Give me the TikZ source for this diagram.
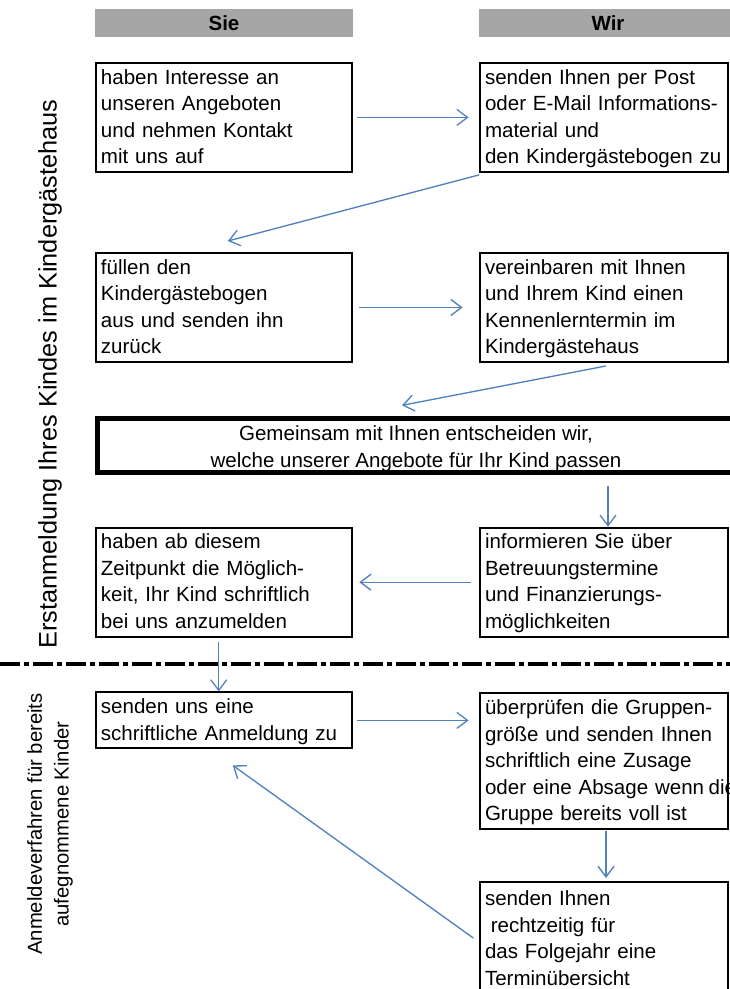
\documentclass[tikz,border=0pt]{standalone}
\usepackage{fontspec}
\setmainfont{Liberation Sans}
\usetikzlibrary{arrows.meta,calc}

\definecolor{kopfgrau}{RGB}{166,166,166}
\definecolor{pfeilblau}{RGB}{79,129,189}

\tikzset{
  kopf/.style={fill=kopfgrau, minimum width=193.5pt, minimum height=21pt, inner sep=0pt,
    font=\fontsize{15.4}{18}\selectfont\bfseries},
  schritt/.style={draw, line width=1.5pt, inner xsep=3.4pt, inner ysep=0pt, align=left,
    font=\fontsize{15.4}{19.9}\selectfont,
    execute at begin node={\rule{0pt}{15.8pt}},
    execute at end node={\rule[-6.2pt]{0pt}{6.2pt}}},
  sie/.style={schritt, text width=185pt, minimum width=192pt},
  wir/.style={schritt, text width=178.5pt, minimum width=185.6pt},
  pfeil/.style={pfeilblau, line width=1pt, -{Straight Barb[length=8pt,width=12pt]}},
}

\begin{document}
\begin{tikzpicture}[x=0.75pt,y=-0.75pt]
        \useasboundingbox (0,0) rectangle (730,989);
        \node[kopf] (sie) at (224,23) {Sie};
        \node[kopf] (wir) at (608,23) {Wir};

        \node[sie, minimum height=81.5pt] (a1) at (224.25,117.4) {haben Interesse an\\unseren Angeboten\\und nehmen Kontakt\\mit uns auf};
        \node[wir, minimum height=81.5pt] (b1) at (604,117.4) {senden Ihnen per Post\\oder E-Mail Informations-\\material und\\den Kindergästebogen zu};
        \node[sie, minimum height=81.3pt] (a2) at (224.25,307.5) {füllen den\\Kindergästebogen\\aus und senden ihn\\zurück};
        \node[wir, minimum height=81.3pt] (b2) at (604,307.5) {vereinbaren mit Ihnen\\und Ihrem Kind einen\\Kennenlerntermin im\\Kindergästehaus};
        \node[draw, line width=3.75pt, minimum width=478.5pt, minimum height=39.75pt, inner sep=0pt,
          font=\fontsize{15.4}{20}\selectfont] (mitte) at (416,445.5)
          {\raisebox{-2.6pt}[\height][\depth]{\begin{tabular}{@{}c@{}}Gemeinsam mit Ihnen entscheiden wir,\\welche unserer Angebote für Ihr Kind passen\end{tabular}}};
        \node[sie, minimum height=81.2pt] (a3) at (224.25,582.2) {haben ab diesem\\Zeitpunkt die Möglich-\\keit, Ihr Kind schriftlich\\bei uns anzumelden};
        \node[wir, minimum height=81.2pt] (b3) at (604,582.2) {informieren Sie über\\Betreuungstermine\\und Finanzierungs-\\möglichkeiten};

        \draw[line width=3pt, dash pattern=on 15pt off 3pt on 3.75pt off 3pt] (0,664) -- (730,664);

        \node[sie, minimum height=40.6pt] (a4) at (224.25,720.4) {senden uns eine\\schriftliche Anmeldung zu};
        \node[wir, minimum height=102pt] (b4) at (604,761.3) {überprüfen die Gruppen-\\größe und senden Ihnen\\schriftlich eine Zusage\\oder eine Absage wenn\hspace{.22em}\rlap{die}\\Gruppe bereits voll ist};
        \node[wir, minimum height=85.5pt] (b5) at (604,939) {senden Ihnen\\\hspace*{.28em}rechtzeitig für\\das Folgejahr eine\\Terminübersicht};

        \node[rotate=90, font=\fontsize{19}{22}\selectfont] (erst) at (50,374) {Erstanmeldung Ihres Kindes im Kindergästehaus};
        \node[rotate=90, align=center, font=\fontsize{15.2}{20}\selectfont] (anmeld) at (50,824) {Anmeldeverfahren für bereits\\aufegnommene Kinder};

        \draw[pfeil, shorten <=3pt, shorten >=8pt] (a1.east) -- (b1.west);
        \draw[pfeil] ($(b1.south west)+(0,2)$) -- ($(a2.north)+(3.5,-11)$);
        \draw[pfeil, shorten <=4.5pt, shorten >=12.5pt] (a2.east) -- (b2.west);
        \draw[pfeil] ($(b2.south)+(2,3)$) -- ($(mitte.north)+(-14,-11)$);
        \draw[pfeil] ($(mitte.south -| b3.north)+(4,11)$) -- ($(b3.north)+(4,0)$);
        \draw[pfeil, shorten <=6pt, shorten >=4.5pt] (b3.west) -- (a3.east);
        \draw[pfeil] ($(a3.south)+(-5.5,4)$) -- ($(a4.north)+(-5.5,0)$);
        \draw[pfeil, shorten <=3pt, shorten >=8pt] (a4.east) -- (a4.east -| b4.west);
        \draw[pfeil] ($(b4.south)+(2,1)$) -- ($(b5.north)+(2,-3)$);
        \draw[pfeil] ($(b5.west)+(-6,-1)$) -- ($(a4.south)+(8.5,16)$);
\end{tikzpicture}
\end{document}
